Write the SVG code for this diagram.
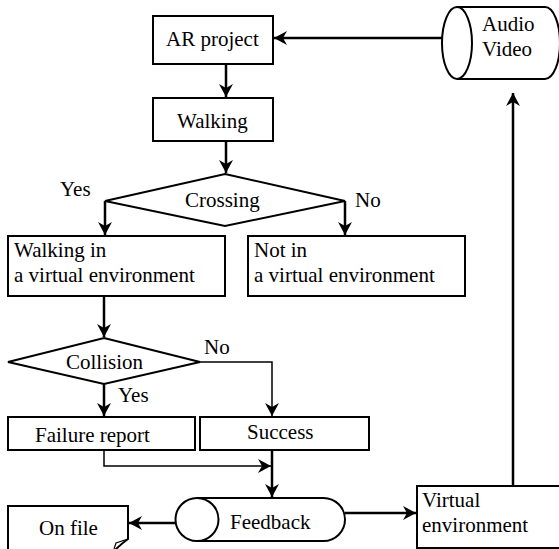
<svg xmlns="http://www.w3.org/2000/svg" width="559" height="549" viewBox="0 0 559 549">
<style>
.n{fill:#fff;stroke:#000;stroke-width:2}
.t{font-family:'Liberation Serif','Times New Roman',Times,'DejaVu Serif',serif;font-size:21px;fill:#000}
.c{fill:none;stroke:#000;stroke-width:2.5}
.c2{fill:none;stroke:#000;stroke-width:1.5}
</style>
<defs>
<marker id="ah" markerUnits="userSpaceOnUse" viewBox="-14 -8 16 16" markerWidth="16" markerHeight="16" refX="0" refY="0" orient="auto">
<path d="M0,0 L-13,-7 L-9,0 L-13,7 Z" fill="#000"/>
</marker>
</defs>
<rect width="559" height="549" fill="#fff"/>
<g id="connectors">
<path class="c" d="M226,64 V97" marker-end="url(#ah)"/>
<path class="c" d="M226,141 V173" marker-end="url(#ah)"/>
<path class="c" d="M105,201 V235" marker-end="url(#ah)"/>
<path class="c" d="M345,201 V235" marker-end="url(#ah)"/>
<path class="c" d="M104,296 V337" marker-end="url(#ah)"/>
<path class="c" d="M104,384 V416" marker-end="url(#ah)"/>
<path class="c2" d="M200,362 H272 V416" marker-end="url(#ah)"/>
<path class="c2" d="M104,450 V466 H271" marker-end="url(#ah)"/>
<path class="c" d="M272,450 V497" marker-end="url(#ah)"/>
<path class="c" d="M202,523 H129" marker-end="url(#ah)"/>
<path class="c" d="M345,513 H416" marker-end="url(#ah)"/>
<path class="c" d="M513,486 V93" marker-end="url(#ah)"/>
<path class="c" d="M442,38 H274" marker-end="url(#ah)"/>
</g>
<g id="ar-project">
<rect class="n" x="153" y="16" width="120" height="48"/>
<text class="t" x="166" y="46" font-family="Liberation Serif, serif">AR project</text>
</g>
<g id="audio-video">
<path class="n" d="M457,7 H545 A15,36 0 0 1 545,79 H457"/>
<ellipse class="n" cx="457" cy="43" rx="15" ry="36"/>
<text class="t" x="482" y="31">Audio</text>
<text class="t" x="482" y="56">Video</text>
</g>
<g id="walking">
<rect class="n" x="153" y="98" width="120" height="43"/>
<text class="t" x="177" y="128">Walking</text>
</g>
<g id="crossing">
<polygon class="n" points="225,174 345,201 225,226 105,201"/>
<text class="t" x="185" y="207">Crossing</text>
<text class="t" x="60" y="196">Yes</text>
<text class="t" x="355" y="207">No</text>
</g>
<g id="walking-in">
<rect class="n" x="8" y="236" width="217" height="60"/>
<text class="t" x="14" y="257">Walking in</text>
<text class="t" x="14" y="282">a virtual environment</text>
</g>
<g id="not-in">
<rect class="n" x="248" y="236" width="217" height="60"/>
<text class="t" x="254" y="257">Not in</text>
<text class="t" x="254" y="282">a virtual environment</text>
</g>
<g id="collision">
<polygon class="n" points="104,338 200,362 104,384 8,362"/>
<text class="t" x="66" y="369">Collision</text>
<text class="t" x="204" y="354">No</text>
<text class="t" x="118" y="402">Yes</text>
</g>
<g id="failure-report">
<rect class="n" x="8" y="417" width="187" height="33"/>
<text class="t" x="35" y="442">Failure report</text>
</g>
<g id="success">
<rect class="n" x="200" y="417" width="169" height="33"/>
<text class="t" x="247" y="439">Success</text>
</g>
<g id="feedback">
<path class="n" d="M197,498 H323.5 A21.5,21.5 0 0 1 323.5,541 H197"/>
<circle class="n" cx="197" cy="519.5" r="21.5"/>
<text class="t" x="230" y="529">Feedback</text>
</g>
<g id="on-file">
<path class="n" d="M8,551 V506 H128 V539 Q121,544 114,551"/>
<path fill="none" stroke="#000" stroke-width="1.2" d="M128,539 L116,543 L114,549"/>
<text class="t" x="39" y="535">On file</text>
</g>
<g id="virtual-environment">
<rect class="n" x="417" y="486" width="150" height="62"/>
<text class="t" x="422" y="507">Virtual</text>
<text class="t" x="422" y="532">environment</text>
</g>
</svg>
